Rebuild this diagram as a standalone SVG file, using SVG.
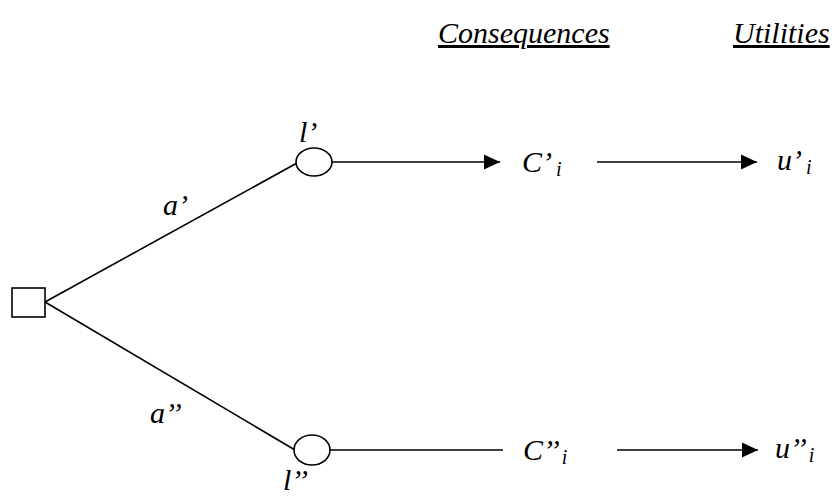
<svg xmlns="http://www.w3.org/2000/svg" width="840" height="497" viewBox="0 0 840 497">
<style>
  .lbl { font-family: "Liberation Serif", "Times New Roman", serif; font-style: italic; font-size: 30px; fill: #000; }
  .sub { font-size: 20px; }
  .edge { stroke: #000; stroke-width: 1.6; fill: none; }
  .node { stroke: #000; stroke-width: 1.6; fill: #fff; }
</style>
<defs>
  <marker id="arrow" markerUnits="userSpaceOnUse" markerWidth="16" markerHeight="16" viewBox="0 0 16 16" refX="16" refY="8" orient="auto">
    <path d="M0,0.5 L16,8 L0,15.5 Z" fill="#000"/>
  </marker>
</defs>
<rect width="840" height="497" fill="#fff"/>

<g id="headers">
  <text class="lbl" x="438" y="43" text-decoration="underline">Consequences</text>
  <text class="lbl" x="733" y="43" text-decoration="underline">Utilities</text>
</g>

<g id="connectors">
  <line class="edge" x1="45" y1="302" x2="297" y2="163"/>
  <line class="edge" x1="45" y1="302" x2="295" y2="450"/>
  <line class="edge" x1="332" y1="162" x2="500" y2="162" marker-end="url(#arrow)"/>
  <line class="edge" x1="597" y1="162" x2="757" y2="162" marker-end="url(#arrow)"/>
  <line class="edge" x1="330" y1="450" x2="503" y2="450"/>
  <line class="edge" x1="617" y1="450" x2="758" y2="450" marker-end="url(#arrow)"/>
  <text class="lbl" x="163" y="215">a’</text>
  <text class="lbl" x="150" y="423">a’’</text>
</g>

<g id="decision">
  <rect class="node" x="12" y="288" width="33" height="29"/>
</g>

<g id="chance-top">
  <ellipse class="node" cx="314" cy="162" rx="18" ry="14"/>
  <text class="lbl" x="299" y="142">l’</text>
</g>

<g id="chance-bottom">
  <ellipse class="node" cx="312" cy="450" rx="18" ry="15"/>
  <text class="lbl" x="283" y="490">l’’</text>
</g>

<g id="consequence-top">
  <text class="lbl" x="522" y="172">C’<tspan class="sub" dx="4" dy="4">i</tspan></text>
</g>

<g id="consequence-bottom">
  <text class="lbl" x="523" y="460">C’’<tspan class="sub" dx="2" dy="4">i</tspan></text>
</g>

<g id="utility-top">
  <text class="lbl" x="777" y="170">u’<tspan class="sub" dx="4" dy="4">i</tspan></text>
</g>

<g id="utility-bottom">
  <text class="lbl" x="775" y="458">u’’<tspan class="sub" dx="2" dy="4">i</tspan></text>
</g>
</svg>
